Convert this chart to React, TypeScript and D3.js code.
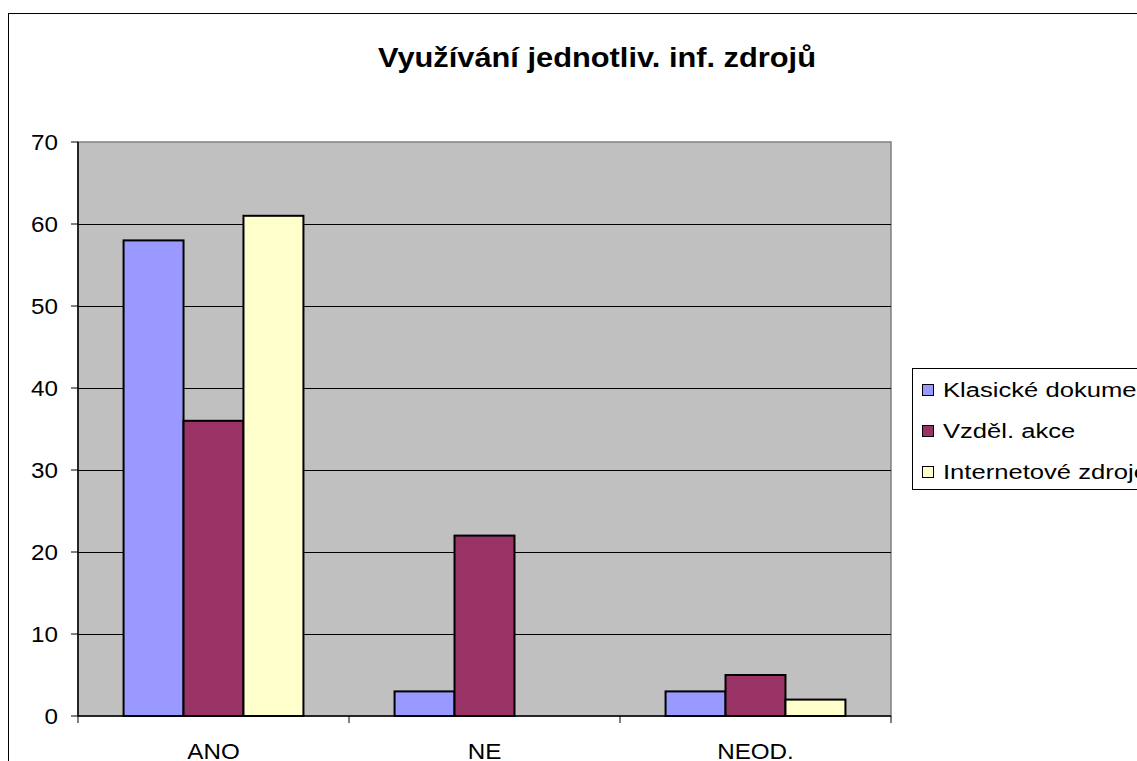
import React from 'react';
import * as d3 from 'd3';

const categories = ['ANO', 'NE', 'NEOD.'];
const seriesNames = ['Klasické dokumenty', 'Vzděl. akce', 'Internetové zdroje'];
const seriesColors = ['#9999ff', '#993366', '#ffffcc'];
const klasicke = [58, 3, 3];
const vzdelAkce = [36, 22, 5];
const internetove = [61, 0, 2];
const yTicks = [0, 10, 20, 30, 40, 50, 60, 70];
const title = 'Využívání jednotliv. inf. zdrojů';

const W = 1137;
const H = 761;
const plot = { left: 78, top: 142, right: 891, bottom: 716 };
const font = '"Liberation Sans", Arial, sans-serif';

// the source picture is a little wider than tall, so its glyphs look stretched
const stretch = 1.1;

export default function App() {
  const series = [klasicke, vzdelAkce, internetove];

  const x = d3.scaleBand<string>()
    .domain(categories)
    .range([plot.left, plot.right]);

  const inner = d3.scaleBand<number>()
    .domain([0, 1, 2])
    .range([0, x.bandwidth()])
    .paddingOuter(0.76);

  const y = d3.scaleLinear()
    .domain([0, 70])
    .range([plot.bottom, plot.top]);

  const catTicks = [...categories.map(c => x(c) as number), plot.right];

  return (
    <svg width={W} height={H} style={{ position: 'fixed', left: 0, top: 0, background: '#fff' }}>
      {/* outer chart border */}
      <rect x={8.5} y={13.5} width={W + 10} height={H + 10} fill="#fff" stroke="#000" strokeWidth={1} />

      <text transform={`translate(597,67) scale(${stretch},1)`} textAnchor="middle" fontFamily={font}
        fontWeight="bold" fontSize={28}>
        {title}
      </text>

      {/* plot area */}
      <rect x={plot.left} y={plot.top} width={plot.right - plot.left} height={plot.bottom - plot.top}
        fill="#c0c0c0" stroke="#808080" strokeWidth={1.5} />

      {/* grid */}
      {yTicks.filter(t => t > 0 && t < 70).map(t => (
        <line key={t} x1={plot.left} x2={plot.right} y1={Math.round(y(t)) + 0.5} y2={Math.round(y(t)) + 0.5}
          stroke="#000" strokeWidth={1} />
      ))}

      {/* bars */}
      {categories.map((c, ci) => series.map((s, si) => (
        <rect key={c + si}
          x={(x(c) as number) + (inner(si) as number)}
          y={y(s[ci])}
          width={inner.bandwidth()}
          height={plot.bottom - y(s[ci])}
          fill={seriesColors[si]} stroke="#000" strokeWidth={2}
          style={{ display: s[ci] > 0 ? undefined : 'none' }} />
      )))}

      {/* y axis */}
      <line x1={plot.left} x2={plot.left} y1={plot.top} y2={plot.bottom} stroke="#000" strokeWidth={1.5} />
      {yTicks.map(t => (
        <g key={t}>
          <line x1={plot.left - 7} x2={plot.left} y1={y(t)} y2={y(t)} stroke="#000" strokeWidth={1} />
          <text transform={`translate(${plot.left - 20},${y(t)}) scale(${stretch},1)`} dy="0.35em"
            textAnchor="end" fontFamily={font} fontSize={22}>{t}</text>
        </g>
      ))}

      {/* x axis */}
      <line x1={plot.left} x2={plot.right} y1={plot.bottom} y2={plot.bottom} stroke="#000" strokeWidth={1.5} />
      {catTicks.map((t, i) => (
        <line key={i} x1={t} x2={t} y1={plot.bottom} y2={plot.bottom + 7} stroke="#000" strokeWidth={1} />
      ))}
      {categories.map(c => (
        <text key={c} transform={`translate(${(x(c) as number) + x.bandwidth() / 2},759) scale(${stretch},1)`}
          textAnchor="middle" fontFamily={font} fontSize={22}>{c}</text>
      ))}

      {/* legend */}
      <rect x={912.5} y={368.5} width={260} height={121} fill="#fff" stroke="#000" strokeWidth={1} />
      {seriesNames.map((n, i) => (
        <g key={n} transform={`translate(922, ${390 + i * 41})`}>
          <rect x={0.5} y={-5.5} width={11} height={11} fill={seriesColors[i]} stroke="#000" strokeWidth={1} />
          <text transform="translate(21,7) scale(1.28,1)" fontFamily={font} fontSize={20}>{n}</text>
        </g>
      ))}
    </svg>
  );
}
